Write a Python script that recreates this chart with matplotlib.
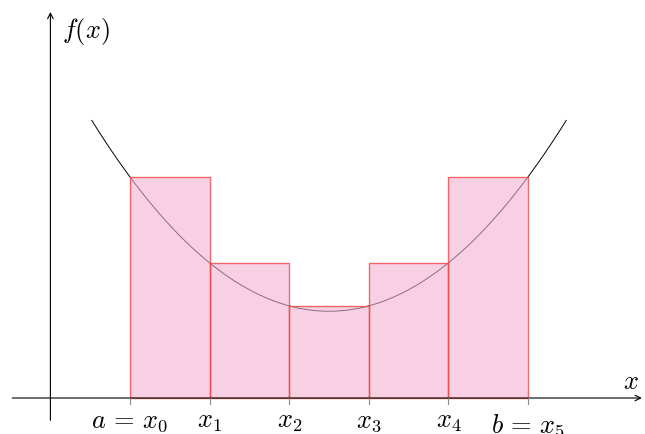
import numpy as np
import matplotlib.pyplot as plt
from matplotlib.patches import Rectangle

plt.rcParams["mathtext.fontset"] = "cm"

# data
edges = [0, 1, 2, 3, 4, 5]                      # x_0 ... x_5
heights = [2.78, 1.70, 1.16, 1.70, 2.78]        # upper sum heights
tick_labels = [r"$a\,=\,x_0$", r"$x_1$", r"$x_2$", r"$x_3$", r"$x_4$", r"$b\,=\,x_5$"]
curve_min_x, curve_min_y, curve_k = 2.5, 1.09, 0.27
curve_range = (-0.48, 5.48)

fig = plt.figure(figsize=(6.45, 4.34), dpi=100)
ax = fig.add_axes([0, 0, 1, 1])
ax.set(xlim=(-1.633, 6.47), ylim=(-0.452, 5.0))
ax.axis("off")

# curve
xs = np.linspace(*curve_range, 200)
ax.plot(xs, curve_min_y + curve_k * (xs - curve_min_x) ** 2,
        color="black", lw=0.7, zorder=2)

# rectangles
for x0, x1, h in zip(edges[:-1], edges[1:], heights):
    ax.add_patch(Rectangle((x0, 0), x1 - x0, h, facecolor="#F3B1D2", alpha=0.6,
                           edgecolor="none", zorder=3))
    ax.add_patch(Rectangle((x0, 0), x1 - x0, h, facecolor="none",
                           edgecolor="#F04848", alpha=0.8, lw=1.0, zorder=4))

# axes
ax.annotate("", xy=(6.43, 0), xytext=(-1.48, 0),
            arrowprops=dict(arrowstyle="->", color="black", lw=0.8,
                            shrinkA=0, shrinkB=0), zorder=5)
ax.annotate("", xy=(-1.0, 4.85), xytext=(-1.0, -0.28),
            arrowprops=dict(arrowstyle="->", color="black", lw=0.8,
                            shrinkA=0, shrinkB=0), zorder=5)

for x in edges:
    ax.plot([x, x], [0, -0.07], color="#888888", lw=0.8, zorder=5)

for i, (x, lab) in enumerate(zip(edges, tick_labels)):
    y = -0.13 if i < 5 else -0.18
    ax.text(x, y, lab, fontsize=19, ha="center", va="top")

ax.text(-0.85, 4.6, r"$f(x)$", fontsize=19, ha="left", va="center")
ax.text(6.29, 0.2, r"$x$", fontsize=19, ha="center", va="center")

fig.savefig("out.png", dpi=100, facecolor="white")
